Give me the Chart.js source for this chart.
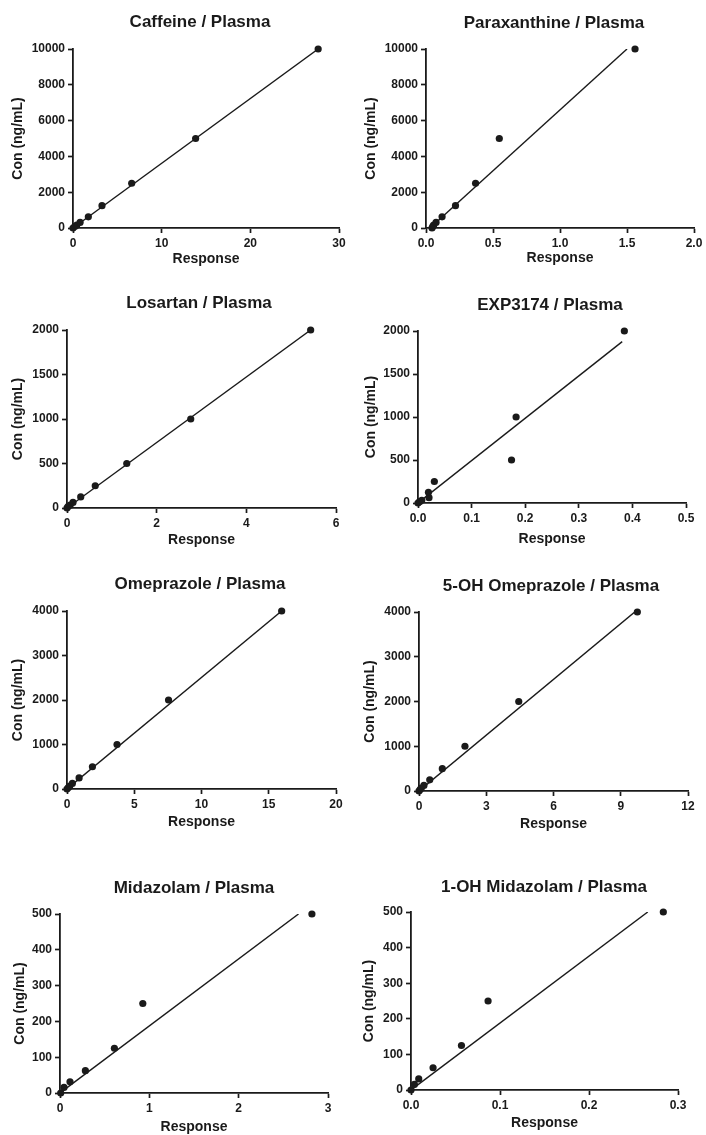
<!DOCTYPE html>
<html lang="en">
<head>
<meta charset="UTF-8">
<title>Calibration curves / Plasma</title>
<script src="https://cdn.jsdelivr.net/npm/chart.js"></script>
<style>
  html, body { margin: 0; padding: 0; background: #fff; }
  body { position: relative; width: 706px; height: 1135px; overflow: hidden; }
  canvas { position: absolute; }
</style>
</head>
<body>
<script>
// one panel per analyte
const analytes = ['Caffeine', 'Paraxanthine', 'Losartan', 'EXP3174',
                  'Omeprazole', '5-OH Omeprazole', 'Midazolam', '1-OH Midazolam'];

// nominal concentrations (ng/mL)
const conc10000 = [0, 78.125, 156.25, 312.5, 625, 1250, 2500, 5000, 10000];
const conc2000  = [0, 15.625, 31.25, 62.5, 125, 250, 500, 1000, 2000];
const conc4000  = [0, 31.25, 62.5, 125, 250, 500, 1000, 2000, 4000];
const conc500   = [0, 15.625, 31.25, 62.5, 125, 250, 500];

// measured responses, same order as the concentrations
const caffeineResp     = [0, 0.2, 0.42, 0.8, 1.73, 3.27, 6.62, 13.83, 27.65];
const paraxanthineResp = [0.045, 0.05, 0.057, 0.075, 0.12, 0.22, 0.37, 0.547, 1.56];
const losartanResp     = [0, 0.022, 0.07, 0.134, 0.306, 0.63, 1.333, 2.76, 5.435];
const exp3174Resp      = [0, 0.003, 0.007, 0.0205, 0.0195, 0.0305, 0.1745, 0.183, 0.385];
const omeprazoleResp   = [0, 0.1, 0.2, 0.4, 0.9, 1.89, 3.72, 7.55, 15.96];
const ohOmeprazoleResp = [0, 0.05, 0.1, 0.22, 0.48, 1.04, 2.05, 4.45, 9.74];
const midazolamResp    = [0.008, 0.045, 0.112, 0.284, 0.609, 0.927, 2.82];
const ohMidazolamResp  = [0, 0.0038, 0.0087, 0.0248, 0.0567, 0.0866, 0.2835];

const responses = [caffeineResp, paraxanthineResp, losartanResp, exp3174Resp,
                   omeprazoleResp, ohOmeprazoleResp, midazolamResp, ohMidazolamResp];
const concs = [conc10000, conc10000, conc2000, conc2000, conc4000, conc4000, conc500, conc500];

// regression lines: [xStart, yStart, xEnd, yEnd]
const fitLines = [
  [0, 0, 27.65, 10000], [0.03, 0, 1.5, 10000],
  [0, 0, 5.435, 2000],  [0, 0, 0.381, 1876],
  [0, 0, 15.96, 4000],  [0, 0, 9.6, 3990],
  [0, 0, 2.67, 500],    [0, 0, 0.266, 500]
];

// tick labels
const xTickLabels = [
  ['0', '10', '20', '30'],
  ['0.0', '0.5', '1.0', '1.5', '2.0'],
  ['0', '2', '4', '6'],
  ['0.0', '0.1', '0.2', '0.3', '0.4', '0.5'],
  ['0', '5', '10', '15', '20'],
  ['0', '3', '6', '9', '12'],
  ['0', '1', '2', '3'],
  ['0.0', '0.1', '0.2', '0.3']
];
const yTick10000 = ['0', '2000', '4000', '6000', '8000', '10000'];
const yTick2000  = ['0', '500', '1000', '1500', '2000'];
const yTick4000  = ['0', '1000', '2000', '3000', '4000'];
const yTick500   = ['0', '100', '200', '300', '400', '500'];
const yTickLabels = [yTick10000, yTick10000, yTick2000, yTick2000, yTick4000, yTick4000, yTick500, yTick500];

// page layout: plot area [left, top, right, bottom], title centre, axis title positions
const plotBoxes = [
  [73, 49, 339, 228],   [426, 49, 694, 228],
  [67, 330, 336, 508],  [418, 331, 686, 503],
  [67, 611, 336, 789],  [419, 612, 688, 791],
  [60, 914, 328, 1093], [411, 912, 678, 1090]
];
const titleCenters = [[200, 22.5], [554, 23], [199, 303.5], [550, 305],
                      [200, 584], [551, 586], [194, 888.5], [544, 887]];
const yTitleX = [18.7, 371.3, 18.3, 371.3, 18.3, 370, 20, 369.7];
const xTitleY = [259.7, 258.5, 540.7, 540, 822.3, 824.3, 1127.3, 1124];

const ink = '#1a1a1a';
const family = '"Liberation Sans", Arial, Helvetica, sans-serif';
Chart.defaults.font.family = family;
Chart.defaults.color = ink;

const panelTitle = {
  id: 'panelTitle',
  afterDraw(chart, args, opts) {
    const ctx = chart.ctx;
    ctx.save();
    ctx.font = 'bold 17px ' + family;
    ctx.fillStyle = ink;
    ctx.textAlign = 'center';
    ctx.textBaseline = 'middle';
    ctx.fillText(opts.text, opts.x, opts.y);
    ctx.restore();
  }
};

analytes.forEach((name, i) => {
  const [x0, y0, x1, y1] = plotBoxes[i];
  const left = Math.round(yTitleX[i] - 8.4);
  const top = Math.round(titleCenters[i][1] - 16);
  const width = Math.round(x1 + 40 - left);
  const height = Math.round(xTitleY[i] + 8.4 - top);

  const canvas = document.createElement('canvas');
  canvas.width = width;
  canvas.height = height;
  canvas.style.left = left + 'px';
  canvas.style.top = top + 'px';
  canvas.style.width = width + 'px';
  canvas.style.height = height + 'px';
  document.body.appendChild(canvas);

  const xVals = xTickLabels[i].map(Number);
  const yVals = yTickLabels[i].map(Number);
  const fit = fitLines[i];

  const axisCommon = {
    type: 'linear',
    grid: { display: true, drawOnChartArea: false, drawTicks: true,
            tickLength: 5, tickWidth: 1.7, tickColor: ink },
    border: { display: true, color: ink, width: 1.8 },
    title: { display: true, color: ink, font: { size: 14, weight: 'bold' }, padding: 0 }
  };

  new Chart(canvas, {
    type: 'scatter',
    data: {
      datasets: [
        {
          data: responses[i].map((x, k) => ({ x: x, y: concs[i][k] })),
          pointRadius: 3.6,
          pointBackgroundColor: ink,
          pointBorderWidth: 0,
          clip: false
        },
        {
          data: [{ x: fit[0], y: fit[1] }, { x: fit[2], y: fit[3] }],
          showLine: true,
          pointRadius: 0,
          borderColor: ink,
          borderWidth: 1.4
        }
      ]
    },
    options: {
      responsive: false,
      animation: false,
      devicePixelRatio: 1,
      layout: { padding: { left: 0, top: y0 - top, right: width - (x1 - left), bottom: 0 } },
      plugins: {
        legend: { display: false },
        tooltip: { enabled: false },
        panelTitle: { text: name + ' / Plasma', x: titleCenters[i][0] - left, y: titleCenters[i][1] - top }
      },
      scales: {
        x: {
          ...axisCommon,
          position: 'bottom',
          min: xVals[0],
          max: xVals[xVals.length - 1],
          title: { ...axisCommon.title, text: 'Response' },
          ticks: { color: ink, font: { size: 12, weight: 'bold' }, padding: 3,
                   maxRotation: 0, autoSkip: false,
                   callback: (v, k) => xTickLabels[i][k] },
          afterBuildTicks: s => { s.ticks = xVals.map(v => ({ value: v })); },
          afterFit: s => { s.height = height - (y1 - top); }
        },
        y: {
          ...axisCommon,
          position: 'left',
          min: yVals[0],
          max: yVals[yVals.length - 1],
          title: { ...axisCommon.title, text: 'Con (ng/mL)' },
          ticks: { color: ink, font: { size: 12, weight: 'bold' }, padding: 3,
                   autoSkip: false,
                   callback: (v, k) => yTickLabels[i][k] },
          afterBuildTicks: s => { s.ticks = yVals.map(v => ({ value: v })); },
          afterFit: s => { s.width = x0 - left; }
        }
      }
    },
    plugins: [panelTitle]
  });
});
</script>
</body>
</html>
